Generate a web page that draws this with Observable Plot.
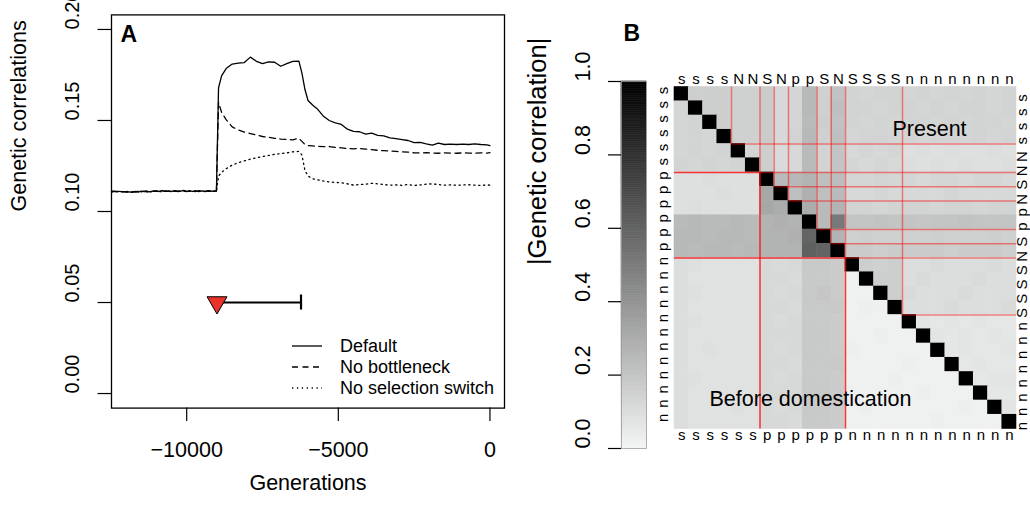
<!DOCTYPE html>
<html><head><meta charset="utf-8">
<script src="https://cdn.jsdelivr.net/npm/d3@7"></script>
<script src="https://cdn.jsdelivr.net/npm/@observablehq/plot@0.6"></script>
<style>
body{margin:0;background:#fff;}
#chart{position:relative;width:1030px;height:510px;overflow:hidden;background:#fff;}
#chart svg{position:absolute;left:0;top:0;background:transparent;}
</style></head><body><div id="chart"></div>
<script>
const FONT = '"Liberation Sans", Arial, Helvetica, sans-serif';

// ---------- Panel A data ----------
const generations = [-12480,-11900,-11800,-11700,-11600,-11500,-11400,-11300,-11200,-11100,-11000,-10900,-10800,-10700,-10600,-10500,-10400,-10300,-10200,-10100,-10000,-9900,-9800,-9700,-9600,-9500,-9400,-9300,-9200,-9100,-9020,
 -8950,-8850,-8700,-8500,-8300,-8100,-7900,-7700,-7500,-7300,-7100,-6900,-6700,-6500,-6300,-6200,-6100,-6000,-5850,-5700,-5500,-5300,-5100,-4900,-4700,-4500,-4300,-4100,-3900,-3700,-3500,-3300,-3100,-2900,-2700,-2500,-2300,-2100,-1900,-1700,-1500,-1300,-1100,-900,-700,-500,-300,-100,0];
const defaultCorr = [0.1112,0.1108,0.1105,0.1110,0.1107,0.1112,0.1109,0.1111,0.1108,0.1113,0.1110,0.1112,0.1115,0.1110,0.1113,0.1111,0.1114,0.1109,0.1112,0.1116,0.1111,0.1113,0.1110,0.1114,0.1109,0.1113,0.1111,0.1115,0.1110,0.1113,0.1112,
 0.1680,0.1745,0.1785,0.1810,0.1815,0.1818,0.1848,0.1825,0.1812,0.1822,0.1820,0.1798,0.1812,0.1825,0.1826,0.1760,0.1670,0.1610,0.1585,0.1565,0.1525,0.1500,0.1487,0.1478,0.1452,0.1440,0.1438,0.1425,0.1430,0.1418,0.1415,0.1405,0.1400,0.1395,0.1390,0.1378,0.1380,0.1372,0.1365,0.1375,0.1368,0.1370,0.1368,0.1370,0.1368,0.1372,0.1368,0.1366,0.1362];
const noBottleneckCorr = [0.1110,0.1106,0.1109,0.1107,0.1111,0.1109,0.1112,0.1108,0.1111,0.1110,0.1114,0.1109,0.1112,0.1111,0.1110,0.1114,0.1110,0.1113,0.1111,0.1112,0.1109,0.1114,0.1112,0.1110,0.1113,0.1111,0.1109,0.1112,0.1114,0.1111,0.1113,
 0.1600,0.1545,0.1505,0.1465,0.1448,0.1436,0.1428,0.1420,0.1412,0.1408,0.1402,0.1398,0.1396,0.1394,0.1402,0.1385,0.1368,0.1362,0.1360,0.1358,0.1356,0.1357,0.1352,0.1350,0.1346,0.1344,0.1346,0.1343,0.1340,0.1336,0.1334,0.1332,0.1330,0.1328,0.1326,0.1322,0.1322,0.1323,0.1321,0.1320,0.1322,0.1321,0.1320,0.1322,0.1321,0.1320,0.1322,0.1321,0.1323];
const noSwitchCorr = [0.1108,0.1110,0.1107,0.1109,0.1112,0.1108,0.1110,0.1113,0.1110,0.1108,0.1112,0.1110,0.1109,0.1113,0.1111,0.1109,0.1112,0.1114,0.1110,0.1111,0.1113,0.1110,0.1112,0.1109,0.1114,0.1112,0.1110,0.1111,0.1113,0.1110,0.1111,
 0.1195,0.1215,0.1235,0.1255,0.1268,0.1278,0.1288,0.1295,0.1302,0.1308,0.1314,0.1318,0.1322,0.1328,0.1330,0.1310,0.1225,0.1195,0.1180,0.1175,0.1168,0.1162,0.1160,0.1158,0.1152,0.1145,0.1148,0.1150,0.1155,0.1152,0.1148,0.1145,0.1146,0.1144,0.1148,0.1143,0.1146,0.1150,0.1152,0.1148,0.1145,0.1146,0.1144,0.1146,0.1147,0.1145,0.1143,0.1146,0.1145];
const seriesNames = ["Default", "No bottleneck", "No selection switch"];
const seriesDash = [null, "6,4.5", "1.3,3.6"];
const xTicks = [-10000, -5000, 0];
const xTickLabels = ["\u221210000", "\u22125000", "0"];
const yTicks = [0, 0.05, 0.10, 0.15, 0.20];
const yTickLabels = ["0.00", "0.05", "0.10", "0.15", "0.20"];
const domesticationStart = -9000;   // triangle
const bottleneckEnd = -6230;        // end of the bar
const markerLevel = 0.05;

// ---------- Panel B data ----------
const topLabels = ["s","s","s","s","N","N","S","N","p","p","S","N","S","S","S","S","n","n","n","n","n","n","n","n"];
const bottomLabels = ["s","s","s","s","s","s","p","p","p","p","p","p","n","n","n","n","n","n","n","n","n","n","n","n"];
const presentBounds = [4, 6, 7, 8, 10, 11, 12, 16];
const beforeBounds = [6, 12];
const cbTicks = [0, 0.2, 0.4, 0.6, 0.8, 1.0];
const cbTickLabels = ["0.0", "0.2", "0.4", "0.6", "0.8", "1.0"];
const corrMatrix = [
 [1,.16,.16,.16,.15,.15,.17,.12,.13,.25,.15,.21,.14,.13,.14,.14,.13,.14,.13,.14,.13,.14,.13,.14],
 [.13,1,.16,.16,.15,.15,.17,.12,.13,.25,.15,.22,.14,.14,.13,.14,.14,.13,.14,.13,.14,.14,.13,.14],
 [.13,.14,1,.16,.15,.15,.17,.12,.13,.24,.16,.21,.14,.13,.14,.13,.14,.14,.13,.14,.13,.14,.14,.13],
 [.13,.14,.13,1,.15,.15,.17,.12,.14,.25,.15,.22,.13,.14,.14,.13,.14,.13,.14,.14,.13,.14,.13,.14],
 [.13,.14,.13,.14,1,.13,.16,.11,.12,.24,.14,.20,.12,.13,.12,.13,.09,.10,.09,.10,.09,.09,.10,.09],
 [.14,.13,.14,.13,.14,1,.16,.11,.12,.24,.14,.20,.13,.12,.13,.12,.10,.09,.10,.09,.10,.09,.09,.10],
 [.09,.09,.10,.09,.09,.09,1,.24,.25,.27,.22,.23,.13,.13,.14,.13,.13,.12,.13,.13,.12,.13,.13,.12],
 [.09,.09,.09,.10,.09,.09,.32,1,.22,.28,.22,.24,.12,.12,.13,.12,.12,.12,.12,.13,.12,.12,.12,.12],
 [.09,.10,.09,.09,.09,.09,.32,.30,1,.30,.24,.27,.14,.14,.13,.14,.14,.14,.13,.14,.14,.13,.14,.14],
 [.24,.25,.24,.24,.25,.24,.27,.28,.27,1,.24,.51,.20,.20,.21,.20,.20,.19,.20,.20,.21,.20,.20,.20],
 [.25,.25,.24,.25,.25,.24,.27,.27,.28,.59,1,.27,.15,.16,.15,.15,.15,.15,.16,.15,.15,.15,.16,.15],
 [.25,.24,.25,.25,.24,.25,.27,.27,.27,.61,.59,1,.17,.17,.16,.17,.17,.17,.17,.16,.17,.17,.17,.16],
 [.10,.09,.08,.08,.08,.08,.12,.11,.12,.18,.18,.17,1,.16,.15,.16,.10,.10,.11,.10,.10,.10,.11,.10],
 [.10,.08,.08,.08,.08,.08,.12,.12,.11,.18,.18,.17,.02,1,.16,.16,.10,.11,.10,.10,.10,.11,.10,.10],
 [.10,.09,.08,.08,.08,.08,.12,.11,.12,.18,.19,.17,.02,.02,1,.16,.11,.10,.10,.10,.11,.10,.10,.10],
 [.10,.08,.08,.08,.08,.08,.12,.12,.11,.18,.18,.18,.02,.03,.02,1,.10,.10,.10,.11,.10,.10,.10,.11],
 [.10,.09,.08,.08,.08,.08,.12,.11,.12,.18,.18,.17,.02,.02,.02,.02,1,.07,.06,.07,.06,.07,.06,.06],
 [.10,.08,.08,.08,.08,.08,.12,.12,.12,.18,.18,.17,.02,.02,.03,.02,.02,1,.07,.06,.07,.06,.07,.06],
 [.10,.08,.09,.08,.08,.08,.12,.11,.12,.18,.18,.17,.03,.02,.02,.02,.02,.02,1,.06,.07,.06,.06,.07],
 [.10,.08,.08,.08,.08,.08,.12,.12,.11,.18,.18,.18,.02,.02,.02,.02,.03,.02,.02,1,.06,.07,.06,.06],
 [.10,.09,.08,.08,.08,.08,.12,.11,.12,.18,.18,.17,.02,.02,.02,.03,.02,.02,.02,.02,1,.06,.07,.07],
 [.10,.08,.08,.08,.08,.08,.12,.12,.12,.18,.18,.17,.02,.02,.02,.02,.02,.03,.02,.02,.02,1,.06,.06],
 [.10,.08,.08,.08,.09,.08,.12,.11,.12,.18,.18,.17,.02,.03,.02,.02,.02,.02,.02,.02,.03,.02,1,.07],
 [.10,.08,.08,.08,.08,.08,.12,.12,.11,.18,.18,.17,.02,.02,.02,.02,.02,.02,.03,.02,.02,.02,.02,1]
];

// ---------- build ----------
const chart = document.getElementById("chart");
const baseStyle = {fontFamily: FONT, fontSize: "21.5px", background: "transparent", overflow: "visible", color: "black"};

const lineRows = [];
[defaultCorr, noBottleneckCorr, noSwitchCorr].forEach((vals, s) =>
  vals.forEach((v, i) => lineRows.push({g: generations[i], v, s: seriesNames[s]})));

const panelA = Plot.plot({
  width: 1030, height: 510,
  marginLeft: 111, marginRight: 526, marginTop: 14.4, marginBottom: 102.4,
  x: {domain: [-12480, 480]},
  y: {domain: [-0.008, 0.208]},
  style: baseStyle,
  marks: [
    Plot.frame({stroke: "black", strokeWidth: 1.3}),
    Plot.axisX({ticks: xTicks, tickSize: 13.5, tickPadding: 20.5, strokeWidth: 1.2,
      tickFormat: d => xTickLabels[xTicks.indexOf(d)], fontSize: 21.5, label: null}),
    Plot.axisY({ticks: yTicks, tickSize: 13.5, strokeWidth: 1.2, tickFormat: () => "", label: null}),
    Plot.text(yTicks, {y: d => d, frameAnchor: "left", dx: -39, rotate: -90,
      text: (d, i) => yTickLabels[i], fontSize: 20}),
    Plot.text(["Generations"], {frameAnchor: "bottom", dy: 82, text: d => d, fontSize: 21.5}),
    Plot.text(["Genetic correlations"], {frameAnchor: "left", dx: -92, rotate: -90, text: d => d, fontSize: 21.5}),
    Plot.text(["A"], {frameAnchor: "top-left", dx: 9, dy: 10.6, lineAnchor: "top", textAnchor: "start",
      text: d => d, fontSize: 23, fontWeight: "bold"}),
    ...seriesNames.map((name, s) => Plot.line(lineRows.filter(d => d.s === name),
      {x: "g", y: "v", stroke: "black", strokeWidth: 1.3, strokeDasharray: seriesDash[s]})),
    Plot.ruleY([{x1: domesticationStart, x2: bottleneckEnd, y: markerLevel}],
      {x1: "x1", x2: "x2", y: "y", stroke: "black", strokeWidth: 2.2}),
    Plot.ruleX([{x: bottleneckEnd, y: markerLevel}],
      {x: "x", y1: "y", y2: "y", insetTop: -7.5, insetBottom: -7.5, stroke: "black", strokeWidth: 2.2}),
    Plot.dot([{x: domesticationStart, y: markerLevel}],
      {x: "x", y: "y", symbol: "triangle", rotate: 180, r: 7.4, fill: "#e8322a", stroke: "black", strokeWidth: 1})
  ]
});
// legend (inside panel A, lower right)
{
  const g = d3.select(panelA).append("g").attr("font-family", FONT).attr("font-size", 18)
    .attr("fill", "black").attr("text-anchor", "start");
  seriesNames.forEach((t, i) => {
    const y = 346 + i * 21;
    g.append("line").attr("x1", 292).attr("x2", 322).attr("y1", y).attr("y2", y)
      .attr("stroke", "black").attr("stroke-width", 1.3).attr("stroke-dasharray", seriesDash[i]);
    g.append("text").attr("x", 340).attr("y", y).attr("dy", "0.35em").attr("text-anchor", "start").text(t);
  });
}
chart.appendChild(panelA);

// ---------- Panel B heatmap ----------
const cells = [];
corrMatrix.forEach((row, r) => row.forEach((v, c) => cells.push({r, c, v})));
const colorOpts = {type: "linear", domain: [0, 1], range: ["#f4f5f5", "#000000"], interpolate: "rgb"};

const heat = Plot.plot({
  width: 1030, height: 510,
  marginLeft: 674, marginRight: 14, marginTop: 86.5, marginBottom: 81.5,
  x: {domain: [0, 24], axis: null},
  y: {domain: [0, 24], reverse: true, axis: null},
  color: colorOpts,
  style: baseStyle,
  marks: [
    Plot.rect(cells, {x1: "c", x2: d => d.c + 1, y1: "r", y2: d => d.r + 1, fill: "v", inset: -0.3}),
    // before domestication (lower triangle)
    Plot.ruleY(beforeBounds, {y: d => d, x1: () => 0, x2: d => d, stroke: "#ff0000", strokeOpacity: 0.78, strokeWidth: 1.5}),
    Plot.ruleX(beforeBounds, {x: d => d, y1: d => d, y2: () => 24, stroke: "#ff0000", strokeOpacity: 0.78, strokeWidth: 1.5}),
    // present (upper triangle)
    Plot.ruleX(presentBounds, {x: d => d, y1: () => 0, y2: d => d, stroke: "#ff0000", strokeOpacity: 0.45, strokeWidth: 1.5}),
    Plot.ruleY(presentBounds, {y: d => d, x1: d => d, x2: () => 24, stroke: "#ff0000", strokeOpacity: 0.45, strokeWidth: 1.5}),
    Plot.text(topLabels, {x: (d, i) => i + 0.5, frameAnchor: "top", dy: -13.5, text: d => d, fontSize: 15}),
    Plot.text(bottomLabels, {x: (d, i) => i + 0.5, frameAnchor: "bottom", dy: 11.2, text: d => d, fontSize: 15}),
    Plot.text(bottomLabels, {y: (d, i) => i + 0.5, frameAnchor: "left", dx: -11, rotate: -90, text: d => d, fontSize: 15}),
    Plot.text(topLabels, {y: (d, i) => i + 0.5, frameAnchor: "right", dx: 6, rotate: -90, text: d => d, fontSize: 15}),
    Plot.text(["Present"], {frameAnchor: "top-left", dx: 218, dy: 34, textAnchor: "start", text: d => d, fontSize: 21.5}),
    Plot.text(["Before domestication"], {frameAnchor: "bottom-left", dx: 35, dy: -23.5, textAnchor: "start", text: d => d, fontSize: 21.5}),
    Plot.text(["B"], {frameAnchor: "top-left", dx: -51, dy: -62.5, lineAnchor: "top", textAnchor: "start",
      text: d => d, fontSize: 23, fontWeight: "bold"})
  ]
});
chart.appendChild(heat);

// ---------- colour bar ----------
const ramp = d3.range(0, 1, 0.005);
const cbar = Plot.plot({
  width: 1030, height: 510,
  marginLeft: 621, marginRight: 384, marginTop: 81, marginBottom: 62,
  x: {domain: [0, 1], axis: null},
  y: {domain: [0, 1]},
  color: colorOpts,
  style: baseStyle,
  marks: [
    Plot.rect(ramp, {y1: d => d, y2: d => d + 0.005, fill: d => d + 0.0025, stroke: d => d + 0.0025, strokeWidth: 0.6}),
    Plot.frame({stroke: "#9a9a9a", strokeWidth: 0.8}),
    Plot.axisY({ticks: cbTicks, tickSize: 13, strokeWidth: 1.2, tickFormat: () => "", label: null}),
    Plot.text(cbTicks, {y: d => d, frameAnchor: "left", dx: -38.5, rotate: -90, text: (d, i) => cbTickLabels[i], fontSize: 21.5}),
    Plot.text(["|Genetic correlation|"], {frameAnchor: "left", dx: -84, rotate: -90, text: d => d, fontSize: 25.5})
  ]
});
chart.appendChild(cbar);
</script></body></html>
